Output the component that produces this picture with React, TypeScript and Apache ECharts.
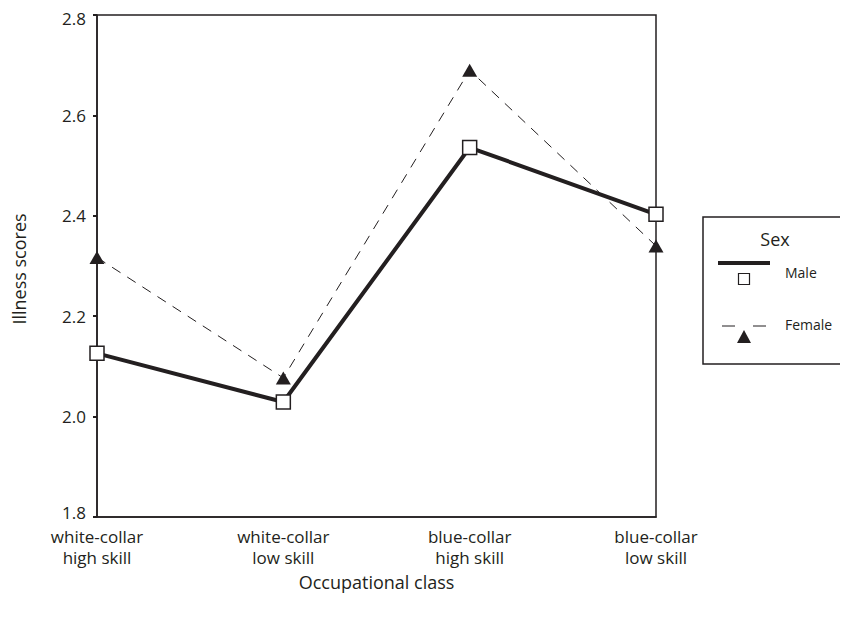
import React, { useEffect, useRef } from "react";
import * as echarts from "echarts";

// Occupational class categories (two-line labels)
const categories = [
  "white-collar\nhigh skill",
  "white-collar\nlow skill",
  "blue-collar\nhigh skill",
  "blue-collar\nlow skill",
];

// Mean illness scores by sex
const maleScores = [2.126, 2.029, 2.536, 2.403];
const femaleScores = [2.317, 2.077, 2.69, 2.34];

const yTicks = { min: 1.8, max: 2.8, interval: 0.2 };

const INK = "#231f20";
const FONT = "'Open Sans', 'Noto Sans', sans-serif";

export default function App() {
  const ref = useRef<HTMLDivElement>(null);

  useEffect(() => {
    if (!ref.current) return;
    const chart = echarts.init(ref.current, null, { renderer: "svg" });

    const trianglePath = "path://M0,-6 L7,6 L-7,6 Z";

    chart.setOption({
      animation: false,
      backgroundColor: "#ffffff",
      textStyle: { fontFamily: FONT, color: INK },
      grid: {
        left: 97,
        right: 192,
        top: 15,
        bottom: 100,
        outerBoundsMode: "none",
        containLabel: false,
        show: true,
        borderColor: INK,
        borderWidth: 1.5,
        backgroundColor: "transparent",
      },
      xAxis: {
        type: "category",
        data: categories,
        boundaryGap: false,
        name: "Occupational class",
        nameLocation: "middle",
        nameGap: 56,
        nameTextStyle: { fontSize: 18, color: INK, fontFamily: FONT },
        axisLine: { show: true, lineStyle: { color: INK, width: 1.5 } },
        axisTick: { show: false },
        axisLabel: {
          fontSize: 17,
          lineHeight: 21,
          color: INK,
          fontFamily: FONT,
          margin: 9,
          interval: 0,
        },
        splitLine: { show: false },
      },
      yAxis: {
        type: "value",
        min: yTicks.min,
        max: yTicks.max,
        interval: yTicks.interval,
        name: "Illness scores",
        nameLocation: "middle",
        nameRotate: 90,
        nameGap: 69,
        nameTextStyle: {
          fontSize: 18,
          color: INK,
          fontFamily: FONT,
          padding: [0, 6, 0, 0],
        },
        axisLine: { show: true, lineStyle: { color: INK, width: 1.5 } },
        axisTick: {
          show: true,
          inside: false,
          length: 4,
          lineStyle: { color: INK, width: 2 },
        },
        axisLabel: {
          fontSize: 17,
          color: INK,
          fontFamily: FONT,
          margin: 11,
          // end labels sit just inside the frame
          formatter: (v: number) => {
            const s = v.toFixed(1);
            if (Math.abs(v - yTicks.min) < 1e-6) return "{lo|" + s + "}";
            if (Math.abs(v - yTicks.max) < 1e-6) return "{hi|" + s + "}";
            return s;
          },
          rich: {
            lo: { fontSize: 17, fontFamily: FONT, color: INK, padding: [0, 0, 9, 0] },
            hi: { fontSize: 17, fontFamily: FONT, color: INK, padding: [7, 0, 0, 0] },
          },
        },
        splitLine: { show: false },
      },
      series: [
        {
          name: "Male",
          type: "line",
          data: maleScores,
          symbol: "rect",
          symbolSize: 14,
          showAllSymbol: true,
          lineStyle: { color: INK, width: 4 },
          itemStyle: { color: "#ffffff", borderColor: INK, borderWidth: 1.5 },
          z: 3,
        },
        {
          name: "Female",
          type: "line",
          data: femaleScores,
          symbol: trianglePath,
          symbolSize: [15, 13],
          showAllSymbol: true,
          lineStyle: { color: INK, width: 1, type: [10, 8] },
          itemStyle: { color: INK, borderWidth: 0 },
          z: 4,
        },
      ],
      graphic: [
        {
          type: "rect",
          shape: { x: 703, y: 217, width: 160, height: 147 },
          style: { fill: "#ffffff", stroke: INK, lineWidth: 1.5 },
          z: 10,
        },
        {
          type: "text",
          x: 775,
          y: 239,
          style: {
            text: "Sex",
            fontSize: 18,
            fontFamily: FONT,
            fill: INK,
            align: "center",
            verticalAlign: "middle",
          },
          z: 11,
        },
        {
          type: "line",
          shape: { x1: 718, y1: 263, x2: 770, y2: 263 },
          style: { stroke: INK, lineWidth: 4 },
          z: 11,
        },
        {
          type: "rect",
          shape: { x: 738.5, y: 273.5, width: 11, height: 11 },
          style: { fill: "#ffffff", stroke: INK, lineWidth: 1.2 },
          z: 11,
        },
        {
          type: "text",
          x: 785,
          y: 272,
          style: {
            text: "Male",
            fontSize: 14,
            fontFamily: FONT,
            fill: INK,
            align: "left",
            verticalAlign: "middle",
          },
          z: 11,
        },
        {
          type: "line",
          shape: { x1: 722, y1: 326, x2: 735, y2: 326 },
          style: { stroke: INK, lineWidth: 1 },
          z: 11,
        },
        {
          type: "line",
          shape: { x1: 753, y1: 326, x2: 766, y2: 326 },
          style: { stroke: INK, lineWidth: 1 },
          z: 11,
        },
        {
          type: "polygon",
          shape: { points: [[744, 330], [751, 343], [737, 343]] },
          style: { fill: INK },
          z: 11,
        },
        {
          type: "text",
          x: 785,
          y: 324,
          style: {
            text: "Female",
            fontSize: 14,
            fontFamily: FONT,
            fill: INK,
            align: "left",
            verticalAlign: "middle",
          },
          z: 11,
        },
      ],
    });

    return () => chart.dispose();
  }, []);

  return <div ref={ref} style={{ width: 848, height: 617, margin: -8 }} />;
}
